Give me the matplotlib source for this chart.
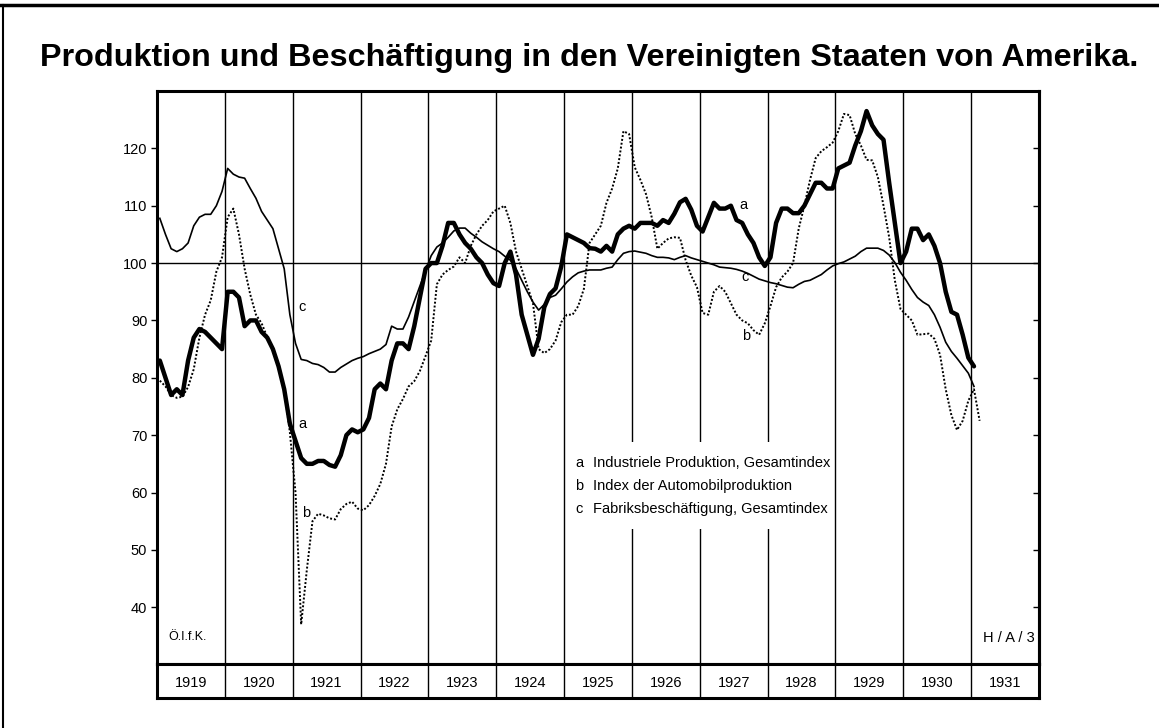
import numpy as np
import matplotlib.pyplot as plt
from matplotlib.patches import Rectangle
from matplotlib.lines import Line2D

# Monatswerte ab Jänner 1919
prod_a = [83, 80, 77, 78, 77, 83, 87, 88.5, 88, 87, 86, 85,
          95, 95, 94, 89, 90, 90, 88, 87, 85, 82, 78, 72,
          69, 66, 65, 65, 65.5, 65.5, 64.8, 64.5, 66.5, 70, 71, 70.5,
          71, 73, 78, 79, 78, 83, 86, 86, 85, 89, 94, 99,
          100, 100, 103, 107, 107, 105, 103.5, 102.5, 101, 100, 98, 96.5,
          96, 100, 102, 98, 91, 87.5, 84, 86.8, 92.3, 94.6, 95.6, 99.4,
          105, 104.5, 104, 103.5, 102.6, 102.5, 102, 103, 102, 105, 106, 106.5,
          106, 107, 107, 107, 106.5, 107.5, 107, 108.6, 110.6, 111.2, 109.3, 106.5,
          105.5, 108, 110.5, 109.5, 109.5, 110, 107.5, 107, 105, 103.5, 101, 99.5,
          101, 107, 109.5, 109.5, 108.7, 108.7, 110, 112, 114, 114, 113, 113,
          116.5, 117, 117.5, 120.5, 123, 126.5, 124, 122.5, 121.5, 114, 107, 100,
          102, 106, 106, 104, 105, 103, 100, 95, 91.5, 91, 87.5, 83.5,
          82]

auto_b = [79.5, 78.5, 77, 76.5, 76.7, 78.4, 81.5, 87, 91, 93.5, 98.5, 101,
          108, 109.5, 105, 99, 94.5, 91, 89.5, 87.1, 84.8, 81.5, 78, 70.5,
          60, 37, 46.5, 55, 56.3, 56, 55.5, 55.3, 57.1, 58, 58.4, 57.2,
          56.9, 57.8, 59.4, 61.5, 65, 71.5, 74.5, 76.3, 78.5, 79.4, 81.2, 83.8,
          86.5, 96.3, 98, 98.8, 99.4, 101, 100, 103, 105, 106.5, 107.5, 109,
          109.5, 110, 107, 102, 99, 96, 93, 85, 84.3, 85, 86.5, 89.7,
          91, 91, 92.5, 95.5, 103.5, 105, 106.5, 110.5, 113, 116.5, 123, 122.5,
          116.7, 114.5, 112, 108, 102.5, 103.5, 104.3, 104.5, 104.4, 100.5, 97.8, 95.8,
          91.3, 91, 95, 96, 95, 93, 91, 90, 89.5, 88.3, 87.5, 89.5,
          92.5, 95.8, 97.5, 98.5, 100, 106, 110, 114.5, 118.3, 119.5, 120.2, 121,
          123, 126, 125.8, 122.5, 120.5, 118, 117.9, 115, 110, 104.5, 97, 92,
          91, 90, 87.5, 87.6, 87.7, 86.8, 84, 78, 73.5, 70.9, 72.5, 76,
          78, 72.5]

besch_c = [107.8, 105, 102.5, 102, 102.5, 103.5, 106.5, 108, 108.5, 108.5, 110, 112.5,
           116.5, 115.5, 115, 114.8, 113, 111.3, 109, 107.5, 106, 102.5, 99, 91,
           86, 83.2, 83, 82.5, 82.3, 81.8, 81, 81, 81.8, 82.4, 83, 83.4,
           83.7, 84.2, 84.6, 85, 85.8, 89, 88.5, 88.5, 90.6, 93.3, 96, 98.7,
           101.3, 102.8, 103.5, 104.5, 105.6, 106.1, 106.1, 105.2, 104.5, 103.7, 103.1, 102.5,
           102, 101.2, 100.5, 99, 97, 95, 93.2, 91.8, 92.8, 94, 94.4, 95.5,
           96.7, 97.6, 98.3, 98.6, 98.8, 98.8, 98.8, 99.1, 99.3, 100.6, 101.7, 102,
           102.1, 101.9, 101.7, 101.3, 101, 101, 100.9, 100.6, 101, 101.3, 100.9, 100.6,
           100.3, 100, 99.7, 99.3, 99.2, 99.1, 98.9, 98.6, 98.2, 97.7, 97.2, 96.9,
           96.6, 96.4, 96.1, 95.8, 95.7, 96.3, 96.8, 97, 97.5, 98, 98.8, 99.5,
           99.9, 100.2, 100.7, 101.2, 102, 102.6, 102.6, 102.6, 102.2, 101.4, 100.1, 98.4,
           97, 95.4, 94, 93.2, 92.6, 91, 88.8, 86.2, 84.6, 83.4, 82.1, 80.8,
           78.5]

years = list(range(1919, 1932))
yticks = [40, 50, 60, 70, 80, 90, 100, 110, 120]
legend_rows = [("a", "Industriele Produktion, Gesamtindex"),
               ("b", "Index der Automobilproduktion"),
               ("c", "Fabriksbeschäftigung, Gesamtindex")]


def month_x(values):
    return 1919 + (np.arange(len(values)) + 0.5) / 12


plt.rcParams['font.family'] = ['Liberation Sans', 'DejaVu Sans']

fig = plt.figure(figsize=(11.59, 7.28), dpi=100)
ax = fig.add_axes([157 / 1159, 1 - 664 / 728, 882 / 1159, 573 / 728])
band = fig.add_axes([157 / 1159, 1 - 698 / 728, 882 / 1159, 34 / 728])

ax.set_xlim(1919, 1932)
ax.set_ylim(30.1, 130)

# Raster: Jahreslinien und 100-Linie
for y in years[1:]:
    ax.axvline(y, color='black', lw=1.0, zorder=1)
ax.axhline(100, color='black', lw=1.0, zorder=1)

ax.plot(month_x(besch_c), besch_c, color='black', lw=1.2, zorder=3)
ax.plot(month_x(auto_b), auto_b, color='black', lw=1.4, ls=(0, (1, 1)), zorder=3)
ax.plot(month_x(prod_a), prod_a, color='black', lw=3.2, zorder=4,
        solid_joinstyle='round', solid_capstyle='round')

# Legendenfeld
ax.add_patch(Rectangle((1925.08, 53.6), 3.9, 15.2, facecolor='white',
                       edgecolor='none', zorder=2))
for k, (key, label) in enumerate(legend_rows):
    yy = 65.2 - 4.0 * k
    ax.text(1925.16, yy, key, fontsize=10.5, va='center', ha='left', zorder=5)
    ax.text(1925.43, yy, label, fontsize=10.5, va='center', ha='left', zorder=5,
            bbox=dict(facecolor='white', edgecolor='none', pad=1.5))

# Kurvenbeschriftungen
for key, x, y in [("c", 1921.08, 92.3), ("a", 1921.09, 72.0), ("b", 1921.14, 56.4),
                  ("a", 1927.59, 110.1), ("c", 1927.61, 97.6), ("b", 1927.62, 87.3)]:
    ax.text(x, y, key, fontsize=10.5, ha='left', va='center', zorder=5)

ax.text(1919.17, 34.8, "Ö.I.f.K.", fontsize=9, ha='left', va='center')
ax.text(1931.94, 34.7, "H / A / 3", fontsize=10.5, ha='right', va='center')

ax.set_xticks([])
ax.set_yticks(yticks)
ax.tick_params(axis='y', direction='out', length=4, width=1, labelsize=10.5, pad=3)
rechts = ax.secondary_yaxis('right')
rechts.set_yticks(yticks)
rechts.tick_params(direction='in', length=4, width=1, labelright=False)
rechts.spines['right'].set_linewidth(2.2)
for side in ax.spines.values():
    side.set_linewidth(2.2)

# Jahresleiste
band.set_xlim(1919, 1932)
band.set_ylim(0, 1)
band.set_xticks([])
band.set_yticks([])
for y in years[1:]:
    band.axvline(y, color='black', lw=1.0)
for y in years:
    band.text(y + 0.5, 0.45, str(y), fontsize=10.5, ha='center', va='center')
for side in band.spines.values():
    side.set_linewidth(2.2)

fig.text(0.508, 1 - 58 / 728, "Produktion und Beschäftigung in den Vereinigten Staaten von Amerika.",
         fontsize=23.3, fontweight='bold', ha='center', va='center')

# Blattrand
fig.add_artist(Line2D([0, 1], [1 - 5 / 728, 1 - 5 / 728], color='black', lw=2.5,
                      transform=fig.transFigure))
fig.add_artist(Line2D([3 / 1159, 3 / 1159], [0, 1 - 5 / 728], color='black', lw=1.5,
                      transform=fig.transFigure))

fig.savefig('out.png', dpi=100)
